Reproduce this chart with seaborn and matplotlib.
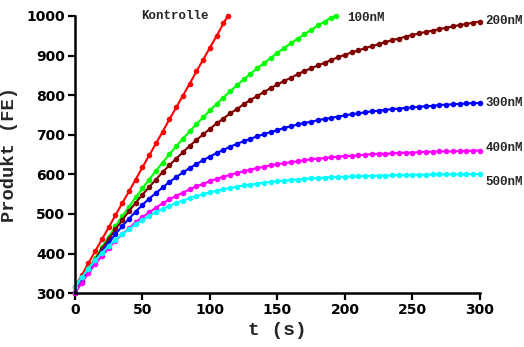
import numpy as np
import pandas as pd
import matplotlib
matplotlib.use("Agg")
import matplotlib.pyplot as plt
import seaborn as sns

# time grid (s), one sample every 5 s
t = list(range(0, 305, 5))
t_kontrolle = t[:23] + [113]
t_100 = t[:39] + [193]

kontrolle = [315, 345, 376, 406, 436, 466, 497, 527, 557, 587, 618, 648, 678, 708,
             739, 769, 799, 829, 860, 890, 920, 950, 981, 999]
nm100 = [300, 330, 360, 388, 416, 442, 469, 494, 518, 542, 565, 587, 609, 630, 651,
         671, 690, 709, 727, 744, 762, 778, 794, 810, 825, 840, 854, 868, 881, 894,
         907, 919, 931, 943, 954, 965, 976, 986, 996, 1000]
nm200 = [300, 330, 358, 385, 412, 437, 461, 484, 507, 528, 549, 568, 587, 606, 623,
         640, 656, 672, 687, 701, 715, 729, 741, 754, 765, 777, 788, 798, 808, 818,
         827, 836, 844, 853, 861, 868, 875, 882, 889, 896, 902, 908, 913, 919, 924,
         929, 934, 939, 943, 948, 952, 956, 960, 963, 967, 970, 974, 977, 980, 983, 986]
nm300 = [300, 329, 356, 381, 405, 428, 449, 469, 488, 506, 523, 539, 553, 567, 581,
         593, 605, 616, 626, 636, 645, 654, 662, 670, 677, 684, 690, 696, 702, 707,
         712, 717, 722, 726, 730, 733, 737, 740, 743, 746, 749, 752, 754, 757, 759,
         761, 763, 765, 766, 768, 769, 771, 772, 773, 775, 776, 777, 778, 779, 780, 780]
nm400 = [300, 326, 351, 373, 394, 414, 432, 449, 464, 479, 492, 504, 516, 527, 537,
         546, 554, 562, 570, 576, 583, 589, 594, 599, 604, 608, 612, 616, 619, 623,
         626, 628, 631, 633, 636, 638, 640, 641, 643, 645, 646, 647, 648, 650, 651,
         652, 652, 653, 654, 655, 655, 656, 657, 657, 658, 658, 658, 659, 659, 660, 660]
nm500 = [315, 340, 362, 383, 402, 419, 435, 449, 462, 474, 485, 495, 505, 513, 521,
         528, 534, 540, 545, 550, 555, 559, 562, 566, 569, 572, 574, 577, 579, 581,
         583, 584, 586, 587, 589, 590, 591, 592, 593, 593, 594, 595, 595, 596, 596,
         597, 597, 598, 598, 598, 599, 599, 599, 600, 600, 600, 600, 600, 600, 601, 601]

series_names = ["Kontrolle", "100nM", "200nM", "300nM", "400nM", "500nM"]
series_times = [t_kontrolle, t_100, t, t, t, t]
series_values = [kontrolle, nm100, nm200, nm300, nm400, nm500]
colors = ["#ff0000", "#00ff00", "#800000", "#0000ff", "#ff00ff", "#00ffff"]
label_pos = [(49, 999), (202, 994), (304, 987), (304, 780), (304, 667), (304, 580)]

frames = []
for name, ts, vals in zip(series_names, series_times, series_values):
    frames.append(pd.DataFrame({"t": ts, "v": vals, "s": name}))
df = pd.concat(frames, ignore_index=True)

sns.set_style("ticks")
plt.rcParams["font.family"] = ["DejaVu Sans"]

fig = plt.figure(figsize=(5.24, 3.47), dpi=100)
ax = fig.add_axes([0.143, 0.155, 0.773, 0.799])

sns.lineplot(data=df, x="t", y="v", hue="s", hue_order=series_names,
             palette=dict(zip(series_names, colors)), marker="o", markersize=4,
             markeredgewidth=0, linewidth=1.5, legend=False, sort=False, ax=ax,
             clip_on=False)

ax.set_xlim(0, 300)
ax.set_ylim(300, 1000)
ax.set_xticks(range(0, 301, 50))
ax.set_yticks(range(300, 1001, 100))
sns.despine(ax=ax)
for sp in ("left", "bottom"):
    ax.spines[sp].set_linewidth(1.8)
    ax.spines[sp].set_color("black")
ax.tick_params(axis="both", direction="out", length=5, width=1.6, colors="black",
               labelsize=10, pad=2)
for lab in ax.get_xticklabels() + ax.get_yticklabels():
    lab.set_fontweight("bold")

mono = ["Liberation Mono", "DejaVu Sans Mono"]
ax.set_xlabel("t (s)", family=mono, fontweight="bold", fontsize=14, labelpad=4)
ax.set_ylabel("Produkt (FE)", family=mono, fontweight="bold", fontsize=13.5, labelpad=6)

for name, (x, y) in zip(series_names, label_pos):
    ax.text(x, y, name, family=mono, fontweight="bold", fontsize=9, ha="left",
            va="center", clip_on=False)

fig.savefig("out.png", dpi=100)
